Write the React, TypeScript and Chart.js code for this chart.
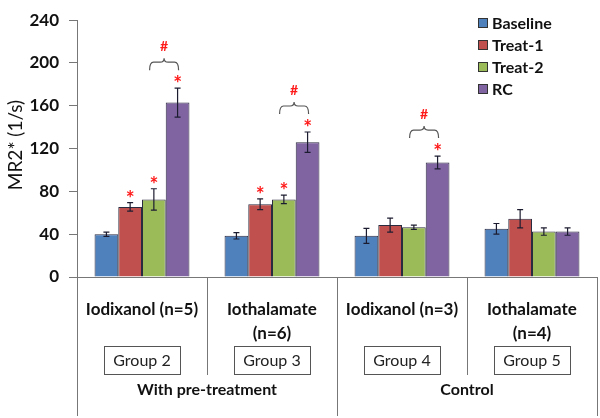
import React, { useEffect, useRef } from "react";
import { Chart, registerables } from "chart.js";

Chart.register(...registerables);

const categoryLines: string[][] = [
  ["Iodixanol (n=5)"],
  ["Iothalamate", "(n=6)"],
  ["Iodixanol (n=3)"],
  ["Iothalamate", "(n=4)"],
];
const groupLabels = ["Group 2", "Group 3", "Group 4", "Group 5"];
const sectionLabels = ["With pre-treatment", "Control"];
const seriesNames = ["Baseline", "Treat-1", "Treat-2", "RC"];

const baseline = [40, 38.5, 38.5, 45];
const baselineErr = [2, 3, 7, 5];
const treat1 = [65.5, 68, 48.5, 54.5];
const treat1Err = [4, 5, 6.5, 8.5];
const treat2 = [72.5, 72.5, 46.5, 42.5];
const treat2Err = [10, 4, 2, 3.5];
const rc = [163, 126, 107, 42.5];
const rcErr = [13.5, 9.5, 6, 3.5];

const baselineStar = [false, false, false, false];
const treat1Star = [true, true, false, false];
const treat2Star = [true, true, false, false];
const rcStar = [true, true, true, false];
const hashSig = [true, true, true, false];

const yTicks = [0, 40, 80, 120, 160, 200, 240];

const colors = ["#4F81BD", "#C0504D", "#9BBB59", "#8064A2"];
const FONT = "Lato, 'Open Sans', sans-serif";

export default function App() {
  const ref = useRef<HTMLCanvasElement | null>(null);
  useEffect(() => {
    const canvas = ref.current;
    if (!canvas) return;
    const values = [baseline, treat1, treat2, rc];
    const errs = [baselineErr, treat1Err, treat2Err, rcErr];
    const stars = [baselineStar, treat1Star, treat2Star, rcStar];

    const overlay = {
      id: "overlay",
      afterDatasetsDraw(chart: any) {
        const ctx = chart.ctx as CanvasRenderingContext2D;
        const y = chart.scales.y;
        ctx.save();
        for (let d = 0; d < values.length; d++) {
          const meta = chart.getDatasetMeta(d);
          meta.data.forEach((bar: any, i: number) => {
            const v = values[d][i];
            const e = errs[d][i];
            const yt = y.getPixelForValue(v + e);
            const yb = y.getPixelForValue(v - e);
            const x = bar.x;
            ctx.strokeStyle = "#1c1c30";
            ctx.lineWidth = 1.2;
            ctx.beginPath();
            ctx.moveTo(x, yt);
            ctx.lineTo(x, yb);
            ctx.moveTo(x - 3, yt);
            ctx.lineTo(x + 3, yt);
            ctx.moveTo(x - 3, yb);
            ctx.lineTo(x + 3, yb);
            ctx.stroke();
            if (stars[d][i]) {
              ctx.fillStyle = "#FF1A1A";
              ctx.font = `bold 21px ${FONT}`;
              ctx.textAlign = "center";
              ctx.textBaseline = "alphabetic";
              ctx.fillText("*", x, yt - 9 + 12);
            }
          });
        }
        const rcMeta = chart.getDatasetMeta(3);
        rcMeta.data.forEach((bar: any, i: number) => {
          if (!hashSig[i]) return;
          const top = y.getPixelForValue(rc[i] + rcErr[i]) - 26;
          const x2 = bar.x + 1;
          const x1 = bar.x - 28;
          const mid = (x1 + x2) / 2;
          ctx.strokeStyle = "#555";
          ctx.lineWidth = 1.2;
          ctx.beginPath();
          ctx.moveTo(x1, top + 8);
          ctx.quadraticCurveTo(x1, top, x1 + 4, top);
          ctx.lineTo(mid - 4, top);
          ctx.quadraticCurveTo(mid, top, mid, top - 4);
          ctx.quadraticCurveTo(mid, top, mid + 4, top);
          ctx.lineTo(x2 - 4, top);
          ctx.quadraticCurveTo(x2, top, x2, top + 8);
          ctx.stroke();
          ctx.fillStyle = "#FF1A1A";
          ctx.font = `bold 14px ${FONT}`;
          ctx.textAlign = "center";
          ctx.textBaseline = "alphabetic";
          ctx.fillText("#", mid, top - 16 + 5);
        });
        ctx.restore();
      },
      afterDraw(chart: any) {
        const ctx = chart.ctx as CanvasRenderingContext2D;
        const x = chart.scales.x;
        const area = chart.chartArea;
        ctx.save();
        seriesNames.forEach((name, i) => {
          const cy = 23 + i * 22;
          ctx.fillStyle = colors[i];
          ctx.fillRect(478, cy - 5, 10, 10);
          ctx.strokeStyle = "#333";
          ctx.lineWidth = 1;
          ctx.strokeRect(478.5, cy - 4.5, 9, 9);
          ctx.fillStyle = "#111";
          ctx.font = `bold 16px ${FONT}`;
          ctx.textAlign = "left";
          ctx.textBaseline = "middle";
          ctx.fillText(name, 492, cy + 1);
        });
        ctx.save();
        ctx.translate(16, 145);
        ctx.rotate(-Math.PI / 2);
        ctx.fillStyle = "#111";
        ctx.font = `19px ${FONT}`;
        ctx.textAlign = "center";
        ctx.textBaseline = "middle";
        ctx.fillText("MR2* (1/s)", 0, 0);
        ctx.restore();
        const n = categoryLines.length;
        const step = (area.right - area.left) / n;
        ctx.strokeStyle = "#777";
        ctx.lineWidth = 1;
        for (let k = 0; k <= n; k++) {
          const lx = Math.round(area.left + k * step) + 0.5;
          const outer = k % 2 === 0;
          ctx.beginPath();
          ctx.moveTo(lx, area.bottom);
          ctx.lineTo(lx, outer ? 416 : 375);
          ctx.stroke();
        }
        categoryLines.forEach((lines, i) => {
          const cx = x.getPixelForValue(i);
          ctx.fillStyle = "#111";
          ctx.font = `bold 17px ${FONT}`;
          ctx.textAlign = "center";
          ctx.textBaseline = "middle";
          lines.forEach((ln, j) => ctx.fillText(ln, cx, 310 + j * 24));
          ctx.strokeStyle = "#555";
          ctx.strokeRect(Math.round(cx - 38) + 0.5, 346.5, 76, 28);
          ctx.font = `16px ${FONT}`;
          ctx.fillStyle = "#222";
          ctx.fillText(groupLabels[i], cx, 361);
        });
        sectionLabels.forEach((s, i) => {
          const cx = area.left + (2 * i + 1) * step;
          ctx.fillStyle = "#111";
          ctx.font = `bold 16px ${FONT}`;
          ctx.textAlign = "center";
          ctx.textBaseline = "middle";
          ctx.fillText(s, cx, 390);
        });
        ctx.restore();
      },
    };

    const chart = new Chart(canvas, {
      type: "bar",
      data: {
        labels: categoryLines.map((l) => l.join(" ")),
        datasets: seriesNames.map((name, i) => ({
          label: name,
          data: values[i],
          backgroundColor: colors[i],
          borderColor: "#2b2b40",
          borderWidth: 1,
          categoryPercentage: 0.73,
          barPercentage: 1.0,
        })),
      },
      options: {
        animation: false,
        responsive: false,
        devicePixelRatio: 1,
        layout: { padding: { left: 0, right: 3, top: 12, bottom: 0 } },
        plugins: { legend: { display: false }, tooltip: { enabled: false } },
        scales: {
          x: {
            grid: { display: false },
            ticks: { display: false },
            border: { display: true, color: "#777" },
            afterFit: (s: any) => {
              s.height = 141;
            },
          },
          y: {
            min: 0,
            max: 240,
            afterBuildTicks: (s: any) => {
              s.ticks = yTicks.map((v) => ({ value: v }));
            },
            grid: { drawOnChartArea: false, tickLength: 8, color: "#777" },
            border: { display: true, color: "#777" },
            ticks: {
              padding: 10,
              color: "#111",
              font: { family: FONT, size: 17, weight: "bold" },
            },
            afterFit: (s: any) => {
              s.width = 77;
            },
          },
        },
      },
      plugins: [overlay],
    } as any);
    return () => chart.destroy();
  }, []);
  return (
    <div style={{ position: "absolute", left: 0, top: 0, width: 600, height: 418, background: "#fff" }}>
      <canvas ref={ref} width={600} height={418} />
    </div>
  );
}
